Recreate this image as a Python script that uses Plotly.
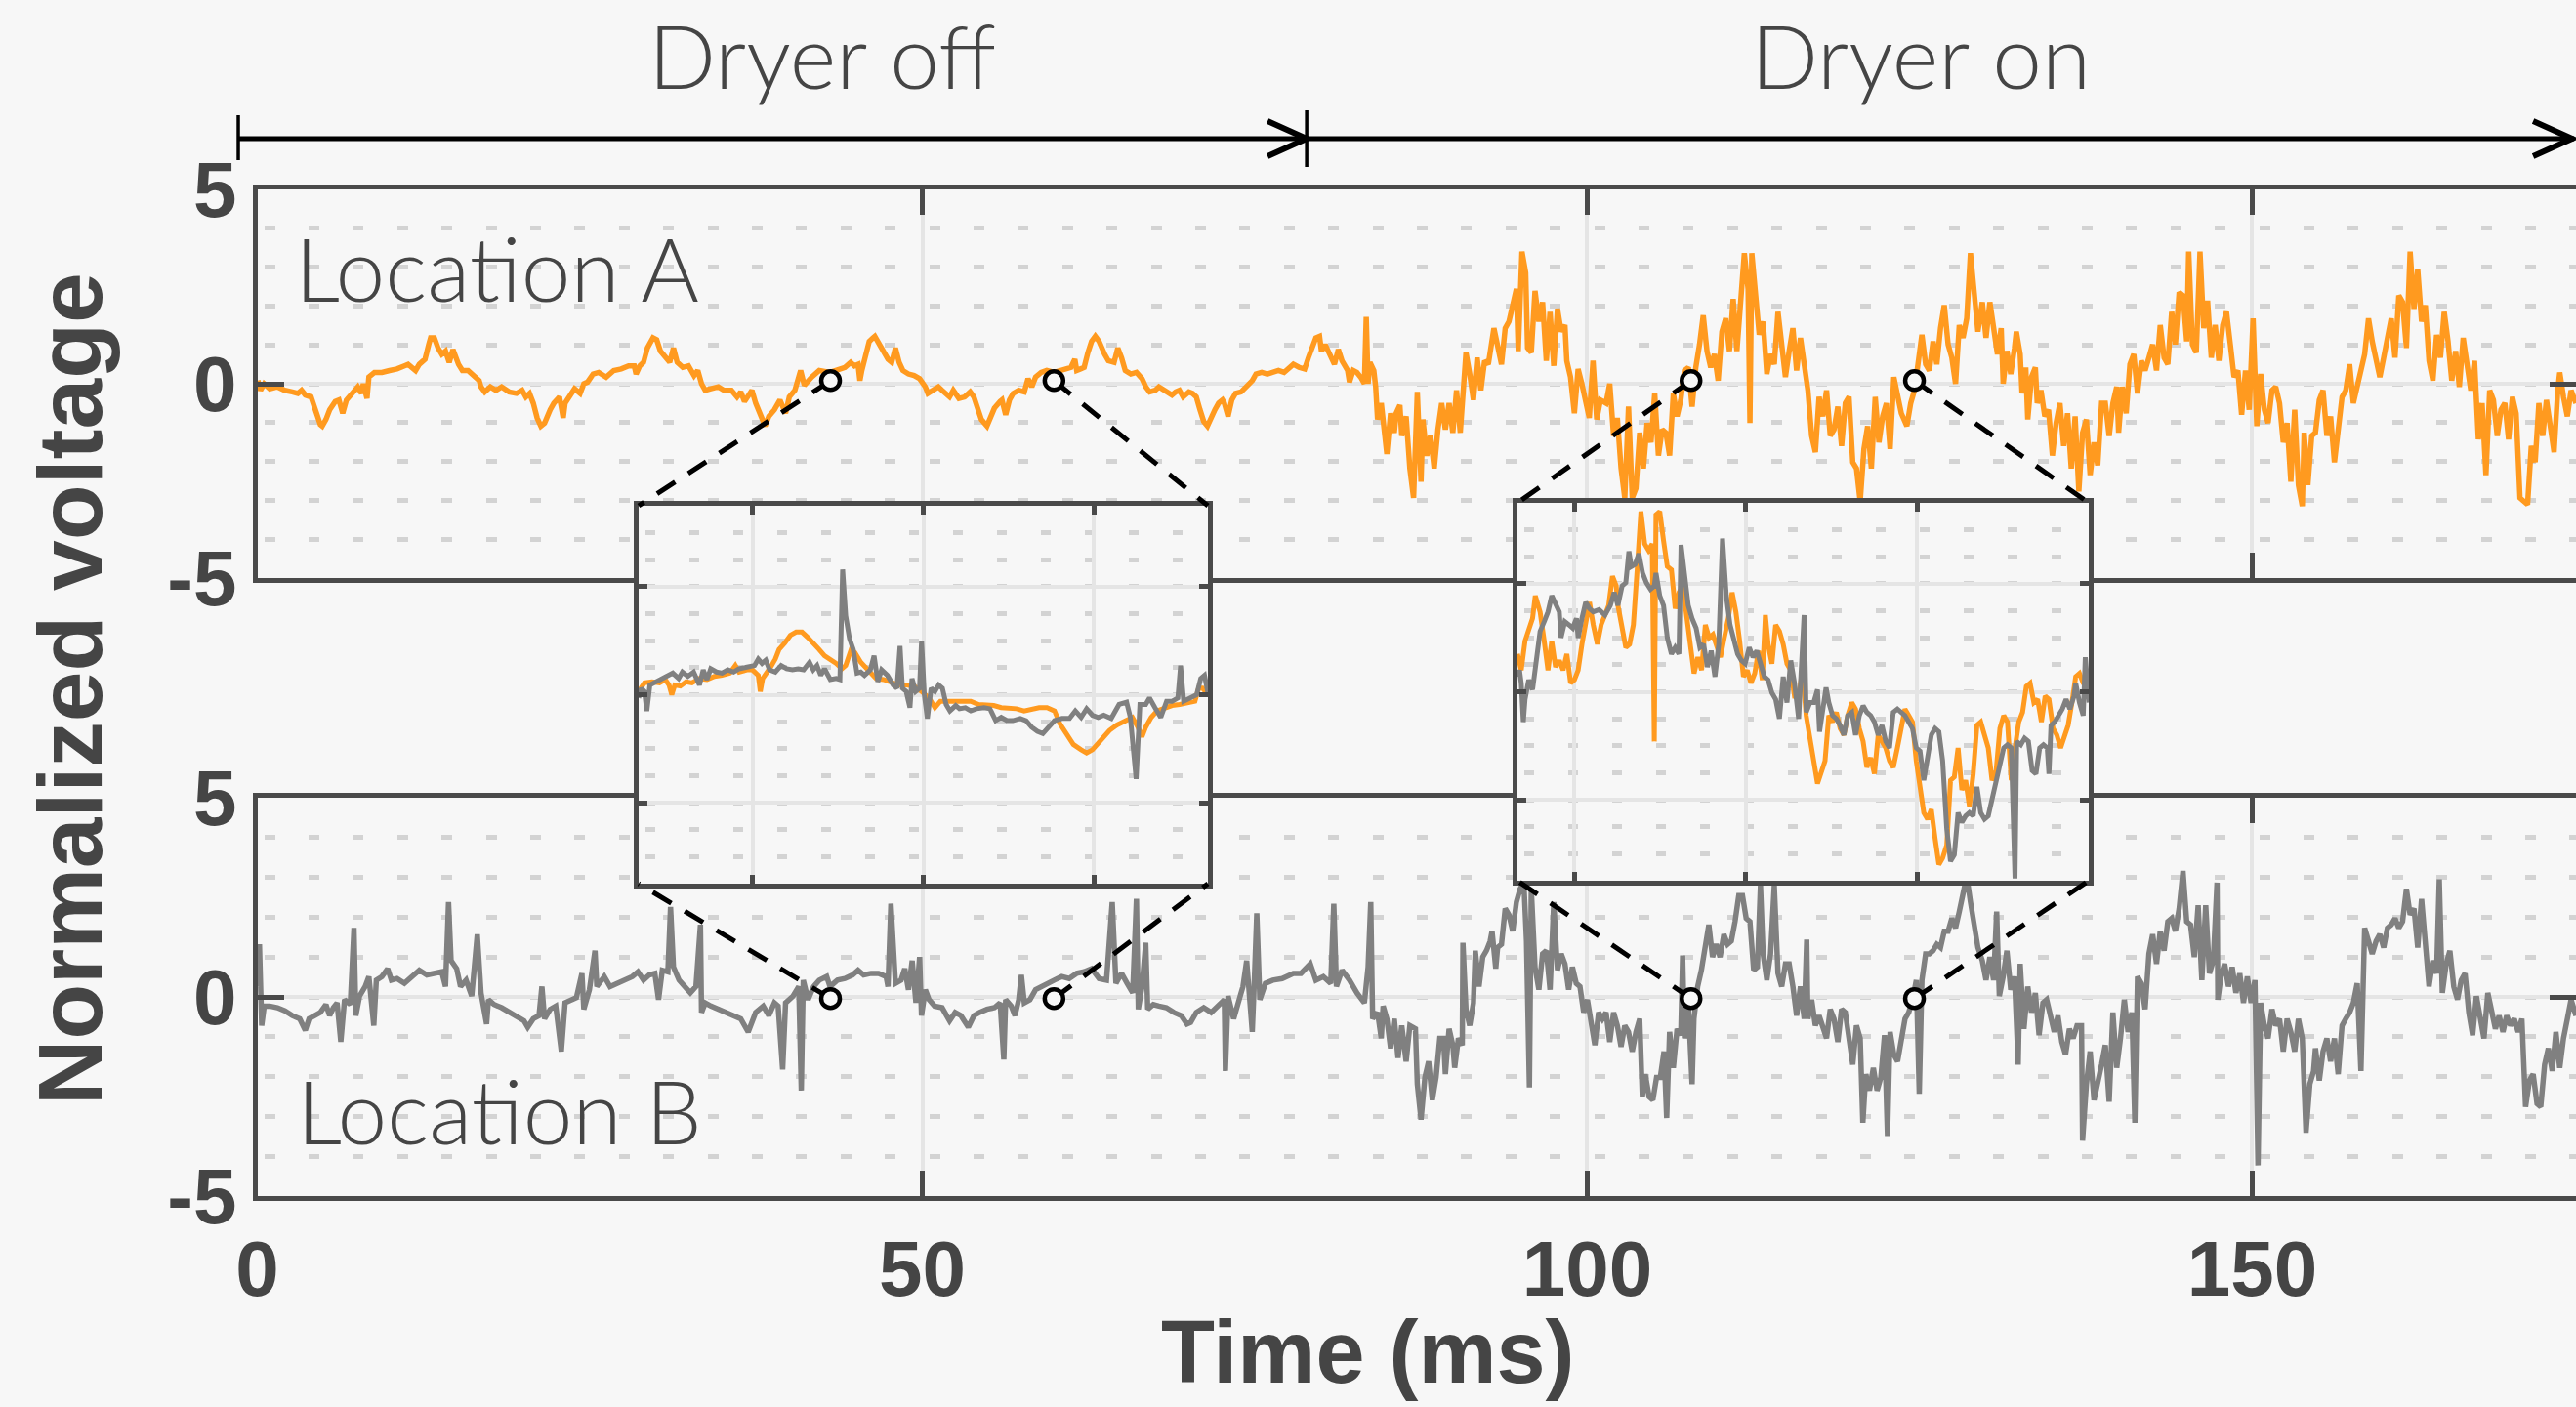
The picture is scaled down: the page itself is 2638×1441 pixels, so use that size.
import plotly.graph_objects as go

W, H = 2638, 1441
BG = '#f7f7f7'
ORANGE = '#ff9a1f'
GRAY = '#808080'
FRAME = '#4a4a4a'
TEXT = '#454545'

# ---------------- data (time in ms, normalized voltage) ----------------
loc_a = [(0.04,0.08),(0.24,-0.17),(0.52,0),(0.94,-0.13),(1.51,-0.08),(2.07,-0.17),(2.63,-0.21),(3.05,-0.25),(3.33,-0.17),(3.61,-0.29),(4.04,-0.34),(4.32,-0.67),(4.74,-1.05),(4.88,-1.09),(5.16,-0.92),(5.44,-0.67),(5.86,-0.46),(6.14,-0.42),(6.42,-0.76),(6.70,-0.42),(7.13,-0.25),(7.55,-0.08),(7.83,-0.25),(7.97,0),(8.25,-0.38),(8.39,0.17),(8.81,0.29),(9.37,0.29),(9.94,0.34),(10.5,0.38),(11.06,0.46),(11.34,0.5),(11.62,0.42),(11.9,0.34),(12.18,0.5),(12.61,0.63),(12.89,1.01),(13.03,1.18),(13.31,1.18),(13.59,0.92),(13.87,0.76),(14.15,0.84),(14.43,0.55),(14.71,0.88),(15.13,0.5),(15.42,0.34),(15.84,0.34),(16.4,0.17),(16.68,0.08),(16.82,-0.08),(17.1,-0.21),(17.52,-0.08),(17.94,-0.17),(18.37,-0.08),(18.93,-0.21),(19.49,-0.25),(19.91,-0.17),(20.19,-0.34),(20.47,-0.25),(20.75,-0.5),(21.04,-0.88),(21.32,-1.09),(21.6,-1.01),(22.02,-0.67),(22.3,-0.5),(22.72,-0.34),(23.0,-0.88),(23.14,-0.5),(23.42,-0.34),(23.85,-0.13),(24.27,-0.25),(24.55,0),(24.83,0.04),(25.25,0.25),(25.67,0.29),(26.23,0.17),(26.8,0.34),(27.36,0.38),(27.92,0.46),(28.34,0.46),(28.48,0.25),(28.76,0.46),(29.04,0.55),(29.33,0.92),(29.75,1.18),(30.03,1.13),(30.31,0.84),(30.73,0.67),(31.01,0.55),(31.29,0.92),(31.57,0.55),(31.99,0.42),(32.42,0.46),(32.84,0.21),(33.12,0.34),(33.4,0),(33.68,-0.17),(34.1,-0.13),(34.66,-0.08),(35.09,-0.17),(35.65,-0.17),(36.07,-0.34),(36.35,-0.21),(36.63,-0.46),(36.91,-0.34),(37.19,-0.17),(37.47,-0.5),(37.9,-0.92),(38.18,-1.09),(38.46,-0.84),(38.88,-0.67),(39.3,-0.42),(39.72,-0.76),(40.0,-0.34),(40.42,-0.17),(40.85,0.34),(41.13,-0.04),(41.69,0.17),(42.25,0.34),
(43.06,0.29),(43.62,0.34),(44.18,0.42),(44.61,0.55),(44.89,0.46),(45.17,0.5),(45.31,0.08),(45.45,0.34),(45.73,0.67),(46.01,1.09),(46.29,1.18),(46.43,1.22),(46.71,1.05),(47.13,0.76),(47.42,0.63),(47.70,0.55),(47.98,0.92),(48.26,0.55),(48.54,0.34),(48.96,0.25),(49.38,0.21),(49.80,0.13),(50.23,-0.08),(50.42,-0.25),(50.79,-0.17),(51.21,-0.08),(51.49,-0.17),(52.05,-0.34),(52.33,-0.17),(52.75,-0.38),(53.18,-0.34),(53.6,-0.21),(53.88,-0.34),(54.16,-0.67),(54.44,-0.92),(54.86,-1.09),(55.14,-0.84),(55.42,-0.63),(55.85,-0.46),(55.99,-0.42),(56.27,-0.8),(56.55,-0.42),(56.83,-0.25),(57.25,-0.17),(57.67,-0.21),(57.95,0.13),(58.23,-0.08),(58.52,0.17),(58.94,0.29),(59.36,0.34),(59.92,0.29),(60.34,0.34),(60.76,0.38),(61.18,0.42),(61.47,0.63),(61.61,0.34),(61.89,0.38),(62.17,0.42),(62.45,0.8),(62.73,1.09),(63.01,1.22),(63.29,1.09),(63.71,0.76),(63.99,0.59),(64.42,0.55),(64.70,0.92),(64.98,0.67),(65.26,0.34),(65.68,0.25),(66.1,0.29),(66.52,0.13),(66.8,-0.08),(67.09,-0.21),(67.51,-0.17),(67.79,-0.08),(68.21,-0.17),(68.49,-0.21),(68.77,-0.29),(69.05,-0.21),(69.33,-0.17),(69.61,-0.34),(70.04,-0.21),(70.32,-0.25),(70.6,-0.34),(70.88,-0.67),(71.16,-0.97),(71.44,-1.09),(71.72,-0.84),(72.0,-0.67),(72.28,-0.5),(72.57,-0.42),(72.71,-0.5),(72.99,-0.84),(73.27,-0.42),(73.55,-0.25),(73.97,-0.21),(74.39,-0.08),(74.81,0.08),(75.09,0.25),(75.52,0.29),(75.94,0.25),(76.36,0.29),(76.78,0.34),(77.2,0.29),(77.48,0.38),(77.9,0.5),(78.33,0.42),(78.75,0.38),(79.03,0.67),(79.31,0.97),(79.59,1.18),(79.87,1.22),(80.01,0.84),(80.29,1.01),(80.71,0.71),(80.99,0.5),(81.28,0.88),(81.56,0.59),(81.98,0.34),(82.12,0.04),(82.4,0.34),(82.68,0.29),(82.96,0.17),(83.24,0),(83.38,1.72),(83.52,0),(83.66,0.55),(83.95,0.34),(84.09,-0.08),(84.23,-0.92),(84.51,-0.5),(84.65,-1.01),(84.93,-1.81),(85.21,-0.76),(85.49,-1.26),(85.63,-0.76),(85.91,-0.55),(86.05,-1.34),
(86.38,-0.84),(86.66,-2.18),(86.94,-2.94),(87.22,-0.21),(87.5,-2.52),(87.64,-0.92),(87.93,-1.85),(88.21,-1.34),(88.49,-2.18),(88.77,-1.18),(89.05,-0.5),(89.33,-1.18),(89.61,-0.5),(89.89,-1.26),(90.17,-0.17),(90.45,-1.26),(90.74,0.34),(90.88,0.8),(91.16,0.25),(91.44,-0.42),(91.72,0.67),(92.0,-0.17),(92.28,0.59),(92.56,0.5),(92.98,1.43),(93.26,0.92),(93.55,0.5),(93.83,1.43),(94.11,1.6),(94.39,2.02),(94.67,2.44),(94.81,0.84),(95.09,3.4),(95.37,2.86),(95.51,0.92),(95.79,0.8),(96.07,2.39),(96.36,1.6),(96.64,2.1),(96.92,0.59),(97.2,1.85),(97.48,0.46),(97.76,1.93),(98.04,1.34),(98.32,1.51),(98.46,0.59),(98.74,0.17),(99.03,-0.76),(99.31,0.38),(99.59,0),(99.87,-0.5),(100.15,-0.88),(100.43,0.59),(100.71,-0.92),(100.99,-0.42),(101.41,-0.5),(101.69,0),(101.98,-1.34),(102.26,-0.88),(102.54,-2.18),(102.82,-2.94),(103.1,-0.59),(103.38,-2.94),(103.66,-2.69),(103.94,-1.26),(104.22,-2.18),(104.5,-1.01),(104.79,-1.51),(105.07,-0.25),(105.35,-1.85),(105.63,-1.18),(105.91,-1.26),(106.19,-1.85),(106.47,-0.25),(106.75,-0.84),(107.03,-0.42),(107.31,0.34),(107.6,0.42),(107.88,-0.59),(108.16,0.42),(108.44,1.01),(108.72,1.76),(109.0,0.84),(109.28,0.42),(109.56,0.76),(109.84,0.08),(110.12,1.34),(110.41,1.68),(110.69,0.84),(110.97,2.18),(111.25,0.84),(111.53,2.02),(111.81,3.36),(112.09,2.44),(112.23,-1.01),(112.37,3.36),(112.65,2.35),(112.93,1.26),(113.22,1.6),(113.5,0.25),(113.78,0.76),(114.06,0.5),(114.34,1.85),(114.62,1.01),(114.9,0.17),(115.18,0.84),(115.46,1.43),(115.74,0.34),(116.03,1.18),(116.31,0.5),(116.59,-0.17),(116.87,-1.34),(117.15,-1.76),(117.43,-0.34),(117.71,-0.84),(117.99,-0.17),(118.27,-1.34),(118.55,-1.18),(118.84,-0.59),(119.12,-1.6),(119.4,-0.5),(119.68,-0.34),(119.96,-2.02),(120.24,-2.18),(120.52,-3.03),(120.8,-1.68),(121.08,-1.09),(121.36,-2.18),(121.65,-0.34),(121.93,-1.51),(122.21,-0.84),(122.49,-0.5),(122.77,-1.68),(123.05,0.17),(123.33,-0.34),(123.61,-0.76),(124.03,-1.09),(124.32,-0.5),(124.6,-0.17),(124.88,0.5),(125.16,1.26),(125.44,0.5),(125.72,0.34),(126.0,1.09),(126.28,0.5),(126.56,1.43),(126.84,2.02),(127.13,1.01),(127.41,0.67),(127.69,0),(127.97,1.51),(128.25,1.18),(128.53,1.68),(128.81,3.36),(129.09,2.35),(129.37,1.34),
(129.7,2.1),(129.98,1.18),(130.27,2.1),(130.55,1.34),(130.84,0.76),(131.12,1.43),(131.27,0),(131.55,0.84),(131.84,0.25),(132.12,0.92),(132.26,1.34),(132.55,0.76),(132.69,-0.25),(132.97,0.42),(133.12,-0.92),(133.4,0.17),(133.69,0.42),(133.83,-0.5),(134.11,-0.17),(134.4,-0.84),(134.68,-0.67),(134.97,-1.85),(135.25,-1.01),(135.54,-0.5),(135.82,-1.6),(136.11,-0.76),(136.39,-2.18),(136.68,-0.84),(136.96,-2.77),(137.24,-1.26),(137.53,-0.92),(137.81,-2.35),(138.1,-1.51),(138.38,-2.1),(138.67,-0.5),(138.95,-0.5),(139.24,-1.34),(139.52,-0.5),(139.81,-0.08),(139.95,-1.26),(140.23,-0.08),(140.52,-0.76),(140.8,0.5),(141.09,0.76),(141.37,-0.25),(141.66,0.59),(141.94,0.34),(142.23,0.67),(142.51,1.01),(142.8,0.34),(143.08,1.51),(143.37,0.67),(143.65,0.5),(143.94,1.85),(144.22,1.01),(144.5,2.35),(144.79,2.27),(145.07,1.09),(145.22,3.4),(145.5,1.01),(145.79,0.8),(146.07,3.4),(146.35,1.43),(146.64,2.14),(146.92,0.67),(147.21,1.51),(147.49,0.59),(147.78,1.51),(148.06,1.85),(148.35,1.01),(148.63,0.17),(148.92,0.34),(149.2,-0.8),(149.49,0.34),(149.77,-0.67),(150.06,1.68),(150.34,-1.09),(150.63,0.25),(150.91,-0.67),(151.19,-1.01),(151.48,-0.17),(151.76,-0.08),(152.05,-0.5),(152.33,-1.51),(152.62,-1.01),(152.9,-2.52),(153.19,-0.67),(153.47,-2.61),(153.76,-3.15),(153.9,-1.26),(154.18,-2.61),(154.47,-1.34),(154.75,-1.26),(155.04,-0.42),(155.32,-0.17),(155.61,-1.34),(155.89,-0.84),(156.18,-2.02),(156.46,-1.09),(156.75,-0.34),(157.03,-0.17),(157.32,0.5),(157.6,-0.5),(157.89,0),(158.17,0.34),(158.45,0.76),(158.74,1.68),(159.02,1.09),(159.31,0.67),(159.59,0.17),(159.88,0.67),(160.16,1.26),(160.45,1.68),(160.73,0.67),(161.02,2.27),(161.3,2.1),(161.59,0.92),(161.87,3.4),(162.16,1.93),(162.44,2.94),(162.73,1.6),(163.01,2.02),(163.29,0.59),(163.58,0.08),(163.86,1.26),(164.15,0.67),(164.43,1.85),(164.72,1.09),(165.0,0.08),(165.29,0.84),(165.57,-0.08),(165.86,1.18),(166.14,0.5),(166.43,-0.17),(166.71,0.59),(167.0,-1.43),(167.28,-0.5),(167.57,-2.35),(167.85,-0.17),(168.13,-0.42),(168.42,-1.34),(168.7,-0.67),(168.99,-0.5),(169.27,-1.43),(169.56,-0.34),(169.84,-0.76),(170.13,-2.94),(170.41,-3.03),(170.7,-3.11),(170.98,-1.6),(171.27,-2.02),(171.55,-0.5),(171.84,-1.34),(172.12,-0.42),(172.41,-1.01),(172.69,-1.76),(172.97,-0.17),(173.12,0.29),(173.4,-0.34),(173.69,-0.84),(173.97,-0.17),(174.34,-0.5)]

loc_b = [(0.0,0.26),(0.16,1.32),(0.33,-0.72),(0.52,-0.23),(0.94,-0.23),(1.51,-0.27),(2.07,-0.35),(2.63,-0.47),(3.19,-0.55),(3.61,-0.84),(3.89,-0.55),(4.32,-0.47),(4.74,-0.39),(5.16,-0.19),(5.44,-0.47),(5.72,-0.27),(6.0,-0.15),(6.28,-1.13),(6.56,-0.07),(6.99,-0.19),(7.27,1.73),(7.41,-0.47),(7.69,0.02),(8.11,0.26),(8.39,0.51),(8.76,-0.72),(8.95,0.42),(9.37,0.51),(9.8,0.71),(10.08,0.42),(10.5,0.46),(11.06,0.34),(11.62,0.51),(12.18,0.67),(12.75,0.55),(13.31,0.59),(13.87,0.63),(14.15,0.26),(14.38,2.38),(14.57,0.91),(14.99,0.71),(15.28,0.26),(15.7,0.42),(16.12,0.02),(16.54,1.57),(16.82,0.1),(17.24,-0.68),(17.38,-0.07),(17.8,-0.19),(18.37,-0.27),(18.93,-0.39),(19.49,-0.47),(20.05,-0.6),(20.33,-0.76),(20.75,-0.55),(21.18,-0.47),(21.4,0.26),(21.6,-0.55),(22.02,-0.31),(22.44,-0.23),(22.86,-1.37),(23.14,-0.15),(23.56,-0.07),(23.99,-0.02),(24.41,0.59),(24.55,-0.31),(24.97,0.18),(25.39,1.16),(25.53,0.26),(26.09,0.51),(26.52,0.26),(27.08,0.34),(27.64,0.42),(28.2,0.51),(28.62,0.63),(29.04,0.42),(29.47,0.55),(29.89,0.59),(30.17,-0.07),(30.45,0.67),(30.87,0.63),(31.07,2.26),(31.29,0.75),(31.71,0.42),(32.14,0.26),(32.56,0.1),(32.98,0.26),(33.32,1.81),(33.4,-0.39),(33.68,-0.15),(34.1,-0.23),(34.66,-0.31),(35.23,-0.39),(35.79,-0.47),(36.35,-0.55),(36.91,-0.88),(37.47,-0.39),(38.04,-0.23),(38.46,-0.47),(38.88,-0.15),(39.16,-0.23),(39.5,-1.82),(39.72,-0.15),(40.28,0.02),(40.71,0.26),(40.9,-2.35),(41.05,0.42),(41.41,-0.07),(41.83,0.26),(42.25,0.42),(42.81,0.51),
(43.06,0.26),(43.62,0.42),(44.18,0.46),(44.75,0.55),(45.17,0.67),(45.59,0.55),(46.15,0.59),(46.71,0.59),(47.28,0.51),(47.42,0.26),(47.64,2.34),(47.98,0.34),(48.4,0.42),(48.68,0.71),(48.96,0.18),(49.24,0.91),(49.52,-0.15),(49.8,1.0),(49.94,-0.47),(50.23,0.18),(50.51,-0.07),(50.93,-0.23),(51.49,-0.27),(52.05,-0.6),(52.47,-0.39),(52.9,-0.47),(53.46,-0.76),(53.88,-0.47),(54.3,-0.39),(54.86,-0.31),(55.42,-0.27),(55.85,-0.15),(56.13,-1.57),(56.27,-0.07),(56.69,-0.23),(56.97,-0.47),(57.25,-0.07),(57.45,0.55),(57.67,-0.15),(58.09,-0.07),(58.52,0.18),(58.94,0.26),(59.36,0.34),(59.92,0.42),(60.48,0.51),(61.04,0.46),(61.61,0.59),(62.17,0.63),(62.73,0.71),(63.29,0.46),(63.85,0.42),(64.28,2.38),(64.56,0.34),(64.98,0.59),(65.4,0.34),(65.82,0.1),(66.1,2.46),(66.24,-0.31),(66.52,0.26),(66.8,1.36),(66.95,-0.31),(67.37,-0.19),(67.79,-0.23),(68.35,-0.27),(68.91,-0.39),(69.47,-0.47),(69.9,-0.68),(70.18,-0.64),(70.6,-0.39),(71.16,-0.27),(71.72,-0.39),(72.28,-0.23),(72.71,-0.07),(72.79,-1.86),(72.99,0.02),(73.41,-0.55),(73.83,-0.11),(74.11,0.26),(74.39,0.91),(74.67,-0.07),(74.81,-0.88),(74.95,0.26),(75.15,2.1),(75.38,-0.07),(75.8,0.34),(76.36,0.42),(77.06,0.46),(77.9,0.59),(78.47,0.59),(79.17,0.83),(79.59,0.42),(80.15,0.51),(80.71,0.34),(80.94,2.34),(81.14,0.26),(81.56,0.67),(82.12,0.42),(82.68,0.1),(83.24,-0.15),(83.52,0.75),(83.72,2.38),(83.86,-0.55),(84.23,-0.39),(84.51,-1.04),(84.65,-0.23),(84.93,-0.55),(85.21,-1.29),(85.49,-0.55),(85.77,-1.53),(86.05,-0.72),
(86.38,-1.62),(86.66,-0.72),(87.08,-0.8),(87.22,-2.19),(87.5,-3.08),(87.79,-2.02),(88.07,-1.62),(88.35,-2.59),(88.63,-2.02),(88.91,-1.04),(89.19,-1.04),(89.33,-1.94),(89.61,-0.8),(89.89,-1.21),(90.03,-1.78),(90.31,-1.04),(90.6,-1.21),(90.65,1.36),(90.88,-0.31),(91.16,-0.72),(91.44,-0.15),(91.58,1.16),(91.86,0.26),(92.14,1.0),(92.42,1.16),(92.7,1.4),(92.84,1.65),(93.12,0.71),(93.26,1.24),(93.55,1.32),(93.83,2.22),(94.11,2.06),(94.39,1.65),(94.67,2.38),(94.95,2.71),(95.23,2.87),(95.43,1.4),(95.65,-2.27),(95.79,2.71),(96.07,0.75),(96.36,0.18),(96.64,1.08),(96.92,1.16),(97.2,0.18),(97.48,2.38),(97.76,0.67),(98.04,1.08),(98.32,0.83),(98.6,0.18),(98.88,0.75),(99.17,0.34),(99.45,0.26),(99.73,-0.39),(100.01,-0.07),(100.29,-0.72),(100.57,-1.21),(100.85,-0.39),(101.13,-0.55),(101.41,-0.39),(101.69,-1.13),(101.98,-0.39),(102.26,-0.72),(102.54,-1.25),(102.82,-0.72),(103.1,-0.88),(103.38,-1.37),(103.66,-0.88),(103.94,-0.55),(104.14,-2.51),(104.36,-1.94),(104.65,-2.51),(104.93,-2.59),(105.21,-2.02),(105.49,-2.02),(105.77,-1.37),(105.97,-3.04),(106.19,-0.88),(106.47,-1.78),(106.75,-0.8),(107.03,-0.96),(107.17,1.04),(107.31,-1.04),(107.6,-0.23),(107.88,-2.19),(108.02,-0.55),(108.3,0.26),(108.58,0.67),(108.86,1.32),(109.14,1.81),(109.42,1.0),(109.7,1.32),(109.98,1.0),(110.27,1.57),(110.55,1.32),(110.83,1.4),(111.11,1.89),(111.39,2.54),(111.67,2.54),(111.95,1.97),(112.23,1.89),(112.51,0.67),(112.79,0.75),(113.02,2.79),(113.22,1.08),(113.5,0.42),(113.78,1.08),(114.06,2.79),(114.34,0.59),(114.62,0.26),(114.9,0.83),(115.18,0.83),(115.46,0.26),(115.74,-0.47),(116.03,0.26),(116.31,-0.55),(116.5,1.44),(116.59,-0.55),(116.87,-0.07),(117.15,-0.72),(117.43,-0.47),(117.71,-0.8),(117.99,-1.04),(118.27,-0.31),(118.55,-0.55),(118.84,-1.13),(119.12,-0.31),(119.4,-0.39),(119.68,-1.04),(119.96,-1.7),(120.24,-0.72),(120.52,-1.04),(120.72,-3.16),(120.94,-1.94),(121.22,-2.35),(121.51,-1.78),(121.79,-2.35),(122.07,-2.02),(122.35,-0.96),(122.57,-3.49),(122.77,-0.88),(123.05,-1.45),(123.33,-1.62),(123.61,-1.04),(123.89,-0.55),(124.17,-0.39),(124.46,-0.07),(124.74,0.42),(124.96,-2.43),(125.16,0.42),(125.44,1.08),(125.72,1.08),(126.0,1.16),(126.28,1.32),(126.56,1.24),(126.84,1.65),(127.13,1.65),(127.41,1.97),(127.69,1.73),(127.97,2.14),(128.25,2.63),(128.53,3.03),(128.81,2.38),(129.09,1.73),(129.37,1.24),
(129.7,0.91),(129.98,0.42),(130.27,1.0),(130.55,0.42),(130.78,2.14),(130.98,0.02),(131.27,0.51),(131.55,1.16),(131.84,0.18),(132.12,0.51),(132.4,-1.7),(132.55,0.83),(132.83,-0.8),(133.12,0.26),(133.4,-0.39),(133.69,0.1),(133.97,-0.96),(134.26,-0.15),(134.54,-0.07),(134.82,-0.55),(135.11,-0.88),(135.39,-0.47),(135.68,-1.13),(135.96,-1.45),(136.25,-0.8),(136.53,-1.04),(136.82,-0.72),(137.16,-0.72),(137.24,-3.61),(137.53,-2.19),(137.81,-1.37),(138.1,-2.59),(138.38,-2.19),(138.67,-1.7),(138.95,-1.21),(139.24,-2.63),(139.52,-0.39),(139.81,-1.78),(140.09,-1.04),(140.38,-0.07),(140.66,-0.88),(140.95,-0.39),(141.17,-3.16),(141.37,0.51),(141.66,0.34),(141.94,-0.31),(142.23,1.08),(142.51,1.57),(142.8,0.83),(143.08,1.65),(143.37,1.16),(143.65,1.89),(143.94,1.97),(144.22,1.65),(144.5,2.22),(144.79,3.16),(145.07,1.89),(145.36,1.81),(145.64,1.0),(145.93,2.3),(146.21,0.42),(146.5,2.3),(146.78,0.59),(147.07,0.91),(147.35,2.87),(147.41,-0.07),(147.64,0.51),(147.92,0.83),(148.21,0.26),(148.49,0.75),(148.77,0.1),(149.06,0.59),(149.34,-0.15),(149.63,0.51),(149.91,-0.15),(150.2,0.42),(150.43,-4.23),(150.63,-0.15),(150.91,-0.72),(151.19,-1.04),(151.48,-0.31),(151.76,-0.72),(152.05,-0.55),(152.33,-1.37),(152.62,-0.55),(152.9,-0.88),(153.19,-1.37),(153.47,-0.55),(153.76,-1.04),(154.04,-3.41),(154.33,-2.19),(154.61,-1.86),(154.75,-1.29),(155.04,-2.1),(155.32,-1.37),(155.61,-1.04),(155.89,-1.62),(156.18,-1.04),(156.46,-1.94),(156.75,-0.72),(157.03,-0.55),(157.32,-0.39),(157.6,-0.15),(157.89,0.34),(158.17,-1.86),(158.31,0.34),(158.45,1.73),(158.74,1.4),(159.02,1.08),(159.31,1.4),(159.59,1.57),(159.88,1.24),(160.16,1.73),(160.45,1.81),(160.73,1.97),(161.02,1.73),(161.3,1.89),(161.59,2.71),(161.87,2.06),(162.16,2.22),(162.44,1.24),(162.73,2.46),(163.01,1.24),(163.29,0.26),(163.58,0.91),(163.86,0.59),(164.06,2.95),(164.29,0.1),(164.58,0.83),(164.86,1.16),(165.15,0.26),(165.43,-0.07),(165.71,0.42),(166.0,0.59),(166.28,-0.39),(166.57,-0.96),(166.85,0.02),(167.14,-0.55),(167.42,-1.04),(167.71,0.1),(167.99,-0.39),(168.28,-0.8),(168.56,-0.47),(168.85,-0.88),(169.13,-0.47),(169.42,-0.72),(169.7,-0.55),(169.99,-0.88),(170.27,-0.55),(170.55,-2.76),(170.84,-2.1),(171.12,-1.94),(171.41,-2.68),(171.69,-2.76),(171.98,-1.7),(172.26,-1.29),(172.55,-1.86),(172.83,-0.88),(173.12,-1.78),(173.4,-1.04),(173.69,-0.55),(173.97,-0.07),(174.34,-0.47)]

# inset windows: relative time (ms) within one 16.7 ms cycle
inset1_a = [(-8.33,0.03),(-8.16,0.11),(-7.94,0.12),(-7.72,0.11),(-7.55,0.14),(-7.44,0.09),(-7.36,0.0),(-7.27,0.09),(-7.11,0.08),(-6.94,0.12),(-6.77,0.11),(-6.55,0.15),(-6.33,0.14),(-6.11,0.17),(-5.89,0.18),(-5.66,0.2),(-5.5,0.27),(-5.39,0.21),(-5.16,0.23),(-5.0,0.23),(-4.83,0.18),(-4.77,0.03),(-4.7,0.15),(-4.55,0.21),(-4.44,0.27),(-4.33,0.33),(-4.22,0.42),(-4.05,0.48),(-3.89,0.55),(-3.72,0.58),(-3.55,0.58),(-3.38,0.53),(-3.22,0.48),(-3.05,0.42),(-2.89,0.36),(-2.72,0.33),(-2.55,0.29),(-2.38,0.24),(-2.27,0.27),(-2.11,0.42),(-2.0,0.39),(-1.83,0.3),(-1.61,0.23),(-1.38,0.15),(-1.16,0.14),(-0.94,0.12),(-0.72,0.09),(-0.5,0.09),(-0.27,0.08),(-0.05,0.03),(0.17,-0.03),(0.34,-0.12),(0.5,-0.06),(0.73,-0.06),(0.95,-0.06),(1.17,-0.07),(1.39,-0.06),(1.62,-0.09),(1.84,-0.09),(2.06,-0.1),(2.28,-0.12),(2.5,-0.12),(2.73,-0.13),(2.95,-0.15),(3.17,-0.13),(3.39,-0.12),(3.62,-0.12),(3.84,-0.15),(4.0,-0.27),(4.17,-0.36),(4.39,-0.46),(4.62,-0.51),(4.78,-0.54),(4.95,-0.51),(5.12,-0.45),(5.28,-0.39),(5.45,-0.33),(5.67,-0.28),(5.89,-0.24),(6.12,-0.21),(6.28,-0.3),(6.4,-0.39),(6.51,-0.3),(6.67,-0.21),(6.84,-0.15),(7.06,-0.12),(7.28,-0.1),(7.5,-0.09),(7.73,-0.07),(7.95,-0.06),(8.06,0.06),(8.17,0.06),(8.34,0.0)]
inset1_b = [(-8.33,-0.03),(-8.25,0.06),(-8.16,0.03),(-8.09,-0.15),(-8.0,0.09),(-7.83,0.12),(-7.66,0.14),(-7.5,0.18),(-7.33,0.2),(-7.16,0.15),(-7.05,0.21),(-6.89,0.17),(-6.72,0.21),(-6.55,0.09),(-6.44,0.23),(-6.33,0.14),(-6.22,0.24),(-6.05,0.21),(-5.89,0.2),(-5.72,0.23),(-5.55,0.21),(-5.39,0.24),(-5.16,0.26),(-4.94,0.27),(-4.83,0.33),(-4.72,0.29),(-4.61,0.32),(-4.5,0.23),(-4.33,0.21),(-4.16,0.27),(-4.0,0.24),(-3.83,0.23),(-3.66,0.24),(-3.5,0.23),(-3.33,0.3),(-3.22,0.23),(-3.11,0.27),(-3.0,0.18),(-2.89,0.24),(-2.72,0.14),(-2.55,0.15),(-2.44,0.14),(-2.36,1.16),(-2.27,0.73),(-2.16,0.52),(-2.05,0.42),(-1.94,0.2),(-1.83,0.21),(-1.72,0.18),(-1.55,0.23),(-1.44,0.36),(-1.33,0.12),(-1.22,0.23),(-1.05,0.18),(-0.88,0.09),(-0.77,0.06),(-0.68,0.45),(-0.61,0.06),(-0.5,0.03),(-0.39,-0.12),(-0.33,0.15),(-0.22,0.03),(-0.11,0.06),(-0.05,0.5),(0.03,0.0),(0.12,-0.22),(0.23,0.06),(0.34,0.03),(0.45,0.09),(0.56,0.06),(0.67,-0.09),(0.78,-0.15),(0.95,-0.1),(1.06,-0.13),(1.23,-0.12),(1.39,-0.15),(1.56,-0.13),(1.78,-0.12),(1.95,-0.13),(2.12,-0.24),(2.28,-0.21),(2.45,-0.24),(2.62,-0.24),(2.84,-0.22),(3.01,-0.24),(3.17,-0.3),(3.34,-0.34),(3.5,-0.36),(3.67,-0.3),(3.84,-0.24),(4.06,-0.22),(4.28,-0.22),(4.45,-0.15),(4.62,-0.21),(4.78,-0.13),(4.95,-0.19),(5.12,-0.21),(5.28,-0.19),(5.5,-0.22),(5.73,-0.09),(5.95,-0.07),(6.06,-0.21),(6.23,-0.78),(6.34,-0.09),(6.51,-0.09),(6.62,-0.03),(6.78,-0.12),(6.95,-0.21),(7.12,-0.06),(7.28,-0.06),(7.45,-0.03),(7.53,0.27),(7.62,-0.06),(7.84,-0.03),(8.0,0.0),(8.12,0.15),(8.23,0.18),(8.34,0.0)]
inset2_a = [(-8.33,0.35),(-8.22,0.2),(-8.11,0.47),(-8.0,0.56),(-7.89,0.68),(-7.81,0.89),(-7.72,0.8),(-7.67,0.74),(-7.55,0.47),(-7.5,0.32),(-7.44,0.2),(-7.33,0.47),(-7.22,0.23),(-7.11,0.29),(-7.0,0.2),(-6.89,0.35),(-6.78,0.08),(-6.67,0.11),(-6.56,0.2),(-6.45,0.44),(-6.34,0.65),(-6.23,0.83),(-6.12,0.62),(-6.0,0.44),(-5.89,0.62),(-5.78,0.71),(-5.67,0.8),(-5.56,1.07),(-5.45,0.98),(-5.4,0.8),(-5.28,0.56),(-5.17,0.41),(-5.06,0.44),(-4.95,0.62),(-4.84,1.13),(-4.73,1.67),(-4.62,1.37),(-4.51,1.31),(-4.4,1.37),(-4.34,-0.46),(-4.29,1.64),(-4.18,1.67),(-4.07,1.4),(-3.96,1.16),(-3.84,1.13),(-3.73,0.77),(-3.62,0.92),(-3.51,0.98),(-3.4,0.71),(-3.29,0.44),(-3.18,0.17),(-3.07,0.32),(-2.96,0.2),(-2.85,0.62),(-2.74,0.5),(-2.63,0.53),(-2.52,0.44),(-2.41,0.32),(-2.3,0.5),(-2.18,0.68),(-2.07,0.92),(-1.96,0.74),(-1.85,0.47),(-1.74,0.14),(-1.63,0.2),(-1.52,0.08),(-1.41,0.17),(-1.3,0.38),(-1.19,0.11),(-1.1,0.71),(-1.02,0.44),(-0.91,0.26),(-0.8,0.62),(-0.69,0.56),(-0.58,0.44),(-0.47,0.26),(-0.36,0.2),(-0.25,-0.04),(-0.13,-0.04),(-0.02,0.2),(0.09,-0.22),(0.2,-0.46),(0.31,-0.64),(0.42,-0.85),(0.53,-0.76),(0.64,-0.64),(0.75,-0.22),(0.86,-0.28),(0.97,-0.19),(1.08,-0.34),(1.19,-0.4),(1.3,-0.22),(1.42,-0.1),(1.53,-0.16),(1.64,-0.34),(1.75,-0.46),(1.86,-0.7),(1.97,-0.61),(2.08,-0.76),(2.19,-0.4),(2.3,-0.46),(2.41,-0.52),(2.52,-0.64),(2.63,-0.7),(2.75,-0.52),(2.86,-0.34),(2.97,-0.16),(3.08,-0.22),(3.19,-0.28),(3.3,-0.64),(3.41,-0.88),(3.52,-1.12),(3.63,-1.18),(3.74,-1.09),(3.85,-1.36),(3.96,-1.6),(4.07,-1.54),(4.19,-1.42),(4.3,-0.82),(4.41,-0.79),(4.52,-0.52),(4.63,-0.91),(4.74,-0.82),(4.85,-1.06),(4.96,-0.76),(5.07,-0.31),(5.18,-0.28),(5.29,-0.4),(5.4,-0.52),(5.51,-0.82),(5.63,-0.73),(5.74,-0.34),(5.85,-0.22),(5.96,-0.28),(6.07,-0.82),(6.18,-0.52),(6.29,-0.28),(6.4,-0.19),(6.51,0.05),(6.62,0.08),(6.73,-0.1),(6.84,-0.07),(6.95,-0.28),(7.06,-0.04),(7.17,-0.07),(7.29,-0.34),(7.4,-0.4),(7.51,-0.52),(7.62,-0.43),(7.73,-0.31),(7.84,-0.1),(7.95,0.14),(8.06,0.17),(8.17,0.08),(8.34,0.02)]
inset2_b = [(-8.33,0.14),(-8.27,0.2),(-8.22,0.08),(-8.16,-0.28),(-8.11,-0.07),(-8.0,0.11),(-7.89,0.02),(-7.78,0.26),(-7.67,0.56),(-7.55,0.65),(-7.44,0.74),(-7.33,0.89),(-7.22,0.8),(-7.11,0.74),(-7.06,0.5),(-6.95,0.65),(-6.83,0.62),(-6.72,0.59),(-6.61,0.68),(-6.56,0.5),(-6.45,0.68),(-6.34,0.83),(-6.23,0.77),(-6.12,0.74),(-5.95,0.76),(-5.78,0.71),(-5.62,0.8),(-5.51,0.92),(-5.4,0.8),(-5.28,0.98),(-5.17,1.01),(-5.08,1.3),(-5.01,1.16),(-4.9,1.18),(-4.79,1.28),(-4.68,1.1),(-4.57,1.01),(-4.45,0.95),(-4.34,0.98),(-4.29,1.1),(-4.18,0.89),(-4.07,0.8),(-3.96,0.5),(-3.84,0.35),(-3.73,0.41),(-3.62,0.35),(-3.56,1.36),(-3.46,1.04),(-3.35,0.8),(-3.24,0.68),(-3.12,0.59),(-3.01,0.41),(-2.9,0.44),(-2.79,0.23),(-2.68,0.38),(-2.57,0.14),(-2.46,0.44),(-2.35,1.42),(-2.24,0.89),(-2.13,0.62),(-2.02,0.5),(-1.91,0.35),(-1.8,0.29),(-1.69,0.26),(-1.57,0.41),(-1.46,0.32),(-1.35,0.38),(-1.24,0.26),(-1.13,0.14),(-1.02,0.11),(-0.91,-0.01),(-0.8,-0.07),(-0.69,-0.25),(-0.58,0.14),(-0.47,-0.1),(-0.36,0.29),(-0.25,0.08),(-0.13,-0.25),(-0.08,0.02),(0.03,0.71),(0.09,-0.19),(0.2,-0.1),(0.31,-0.1),(0.42,0.02),(0.48,-0.37),(0.59,-0.16),(0.67,0.04),(0.75,-0.1),(0.86,-0.22),(0.97,-0.25),(1.08,-0.31),(1.19,-0.4),(1.3,-0.22),(1.42,-0.19),(1.53,-0.4),(1.64,-0.22),(1.75,-0.13),(1.86,-0.19),(1.97,-0.22),(2.08,-0.28),(2.19,-0.4),(2.3,-0.31),(2.41,-0.46),(2.52,-0.52),(2.63,-0.19),(2.75,-0.16),(2.86,-0.19),(2.97,-0.22),(3.08,-0.28),(3.19,-0.34),(3.3,-0.52),(3.41,-0.55),(3.52,-0.82),(3.63,-0.58),(3.74,-0.4),(3.85,-0.34),(3.96,-0.37),(4.07,-0.64),(4.19,-1.27),(4.3,-1.57),(4.41,-1.51),(4.52,-1.12),(4.63,-1.21),(4.74,-1.15),(4.85,-1.12),(4.96,-1.15),(5.07,-0.88),(5.18,-1.12),(5.29,-1.18),(5.4,-1.15),(5.51,-1.0),(5.63,-0.82),(5.74,-0.7),(5.85,-0.52),(5.96,-0.49),(6.07,-0.52),(6.18,-1.73),(6.23,-0.46),(6.35,-0.49),(6.46,-0.43),(6.57,-0.46),(6.68,-0.73),(6.79,-0.76),(6.9,-0.52),(7.01,-0.49),(7.12,-0.52),(7.17,-0.76),(7.23,-0.31),(7.34,-0.28),(7.45,-0.22),(7.56,-0.16),(7.67,-0.07),(7.78,-0.16),(7.9,-0.04),(7.95,0.08),(8.06,-0.1),(8.17,-0.22),(8.23,0.32),(8.34,-0.1)]

zoom_windows = [(43.1, 59.9), (107.8, 124.6)]   # ms, marked by circles
circle_v_top = 0.08
circle_v_bot = -0.04
phase_edges = [-1.43, 78.9, 174.2]              # ms
phase_labels = ['Dryer off', 'Dryer on']
phase_label_x = [42.5, 125.1]                   # ms
y_ticks = [-5, 0, 5]
y_ticktext = ['-5', '0', '5']
x_ticks = [0, 50, 100, 150]
inset1_xticks = [-5, 0, 5]
inset2_xticks = [-6.67, -1.67, 3.33]
inset_yticks = [-1, 0, 1]

# ---------------- geometry (pixels) ----------------
X_RANGE = [0, 174.34]
Y_RANGE = [-5, 5]
PX_L, PX_R = 263.5, W
TOP = (194, 592)
BOT = (817, 1225)
INSETS = [(654, 518, 1237, 905), (1554, 515, 2139, 902)]
INSET_XR = [-8.33, 8.33]
INSET_YR = [-1.75, 1.75]


def xpx(ms):
    return PX_L + (ms - X_RANGE[0]) / (X_RANGE[1] - X_RANGE[0]) * (PX_R - PX_L)


def ypx(v, panel):
    t, b = panel
    return t + (Y_RANGE[1] - v) / (Y_RANGE[1] - Y_RANGE[0]) * (b - t)


def px(x):
    return x / W


def py(y):
    return 1 - y / H


def ydom(panel):
    return [py(panel[1]), py(panel[0])]


tick_font = dict(family='Liberation Sans, Arial, sans-serif', size=80, color=TEXT, weight='bold')
light_font = dict(family='Lato, Open Sans, sans-serif', size=91, color=TEXT, weight=300)
title_font = dict(family='Liberation Sans, Arial, sans-serif', size=90, color=TEXT, weight='bold')
ytitle_font = dict(family='Liberation Sans, Arial, sans-serif', size=93, color=TEXT, weight='bold')

LW = 5.5  # main trace width
fig = go.Figure()


def split(pairs):
    return [p[0] for p in pairs], [p[1] for p in pairs]


ta, va = split(loc_a)
tb, vb = split(loc_b)
fig.add_trace(go.Scatter(x=ta, y=va, mode='lines', line=dict(color=ORANGE, width=LW), xaxis='x', yaxis='y'))
fig.add_trace(go.Scatter(x=tb, y=vb, mode='lines', line=dict(color=GRAY, width=LW), xaxis='x2', yaxis='y2'))
for k, (sa, sb) in enumerate([(inset1_a, inset1_b), (inset2_a, inset2_b)]):
    xa = 'x%d' % (k + 3)
    ya = 'y%d' % (k + 3)
    t1, v1 = split(sa)
    t2, v2 = split(sb)
    fig.add_trace(go.Scatter(x=t1, y=v1, mode='lines', line=dict(color=ORANGE, width=5), xaxis=xa, yaxis=ya))
    fig.add_trace(go.Scatter(x=t2, y=v2, mode='lines', line=dict(color=GRAY, width=5), xaxis=xa, yaxis=ya))
# dummy traces so the right-hand tick axes are drawn
fig.add_trace(go.Scatter(x=[None], y=[None], xaxis='x', yaxis='y5'))
fig.add_trace(go.Scatter(x=[None], y=[None], xaxis='x2', yaxis='y6'))

main_grid = dict(showgrid=True, gridcolor='#e5e5e5', gridwidth=4, zeroline=False, automargin=False)


def main_x(anchor, labels):
    d = dict(domain=[px(PX_L), 1], range=X_RANGE, anchor=anchor, showline=True, linecolor=FRAME,
             linewidth=5, mirror='ticks', ticks='inside', ticklen=26, tickwidth=5, tickcolor=FRAME,
             tickvals=x_ticks, ticktext=[str(v) for v in x_ticks], showticklabels=labels,
             tickfont=tick_font, ticklabelstandoff=1, fixedrange=True)
    d.update(main_grid)
    return d


def main_y(anchor, panel):
    d = dict(domain=ydom(panel), range=Y_RANGE, anchor=anchor, showline=True, linecolor=FRAME,
             linewidth=5, mirror=False, ticks='inside', ticklen=27, tickwidth=5, tickcolor=FRAME,
             tickvals=y_ticks, ticktext=y_ticktext, tickfont=tick_font, ticklabelstandoff=0,
             minor=dict(dtick=1, tick0=0, showgrid=True, gridcolor='#d3d3d3', gridwidth=5,
                        griddash='0px,7px,11px,27.4px'))
    d.update(main_grid)
    return d


def right_y(over, anchor):
    return dict(overlaying=over, anchor=anchor, side='right', range=Y_RANGE, showline=False,
                ticks='inside', ticklen=27, tickwidth=5, tickcolor=FRAME, tickvals=y_ticks,
                showticklabels=False, showgrid=False, zeroline=False, automargin=False)


def inset_x(box, anchor, tv):
    return dict(domain=[px(box[0]), px(box[2])], range=INSET_XR, anchor=anchor, showline=True,
                linecolor=FRAME, linewidth=5, mirror='ticks', ticks='inside', ticklen=9, tickwidth=5,
                tickcolor=FRAME, tickvals=tv, showticklabels=False, showgrid=True,
                gridcolor='#e5e5e5', gridwidth=4, zeroline=False, automargin=False)


def inset_y(box, anchor):
    return dict(domain=[py(box[3]), py(box[1])], range=INSET_YR, anchor=anchor, showline=True,
                linecolor=FRAME, linewidth=5, mirror='ticks', ticks='inside', ticklen=9, tickwidth=5,
                tickcolor=FRAME, tickvals=inset_yticks, showticklabels=False, showgrid=True,
                gridcolor='#e5e5e5', gridwidth=4, zeroline=False, automargin=False,
                minor=dict(dtick=0.25, tick0=0, showgrid=True, gridcolor='#d3d3d3', gridwidth=5,
                           griddash='0px,7px,10px,28px'))


shapes = []
annotations = []
# connectors + circles
for (t0, t1), box in zip(zoom_windows, INSETS):
    L, T, R, B = box
    pts = [((xpx(t0), ypx(circle_v_top, TOP)), (L, T)),
           ((xpx(t1), ypx(circle_v_top, TOP)), (R, T)),
           ((xpx(t0), ypx(circle_v_bot, BOT)), (L, B)),
           ((xpx(t1), ypx(circle_v_bot, BOT)), (R, B))]
    for (cx, cy), (ex, ey) in pts:
        shapes.append(dict(type='line', xref='paper', yref='paper', x0=px(cx), y0=py(cy),
                           x1=px(ex), y1=py(ey), line=dict(color='black', width=5, dash='22px,16px'),
                           layer='above'))
    for (cx, cy), _ in pts:
        r = 9.5
        shapes.append(dict(type='circle', xref='paper', yref='paper', x0=px(cx - r), x1=px(cx + r),
                           y0=py(cy + r), y1=py(cy - r), line=dict(color='black', width=4.5),
                           fillcolor=BG, layer='above'))

# header arrows
AY = 142
xs = [xpx(v) for v in phase_edges]
shapes.append(dict(type='line', xref='paper', yref='paper', x0=px(xs[0]), x1=px(xs[2]), y0=py(AY), y1=py(AY),
                   line=dict(color='black', width=5)))
shapes.append(dict(type='line', xref='paper', yref='paper', x0=px(xs[0]), x1=px(xs[0]), y0=py(118), y1=py(164),
                   line=dict(color='black', width=3.5)))
shapes.append(dict(type='line', xref='paper', yref='paper', x0=px(xs[1]), x1=px(xs[1]), y0=py(113), y1=py(171),
                   line=dict(color='black', width=3.5)))
for tip in (xs[1], xs[2] - 2):
    path = 'M %f,%f L %f,%f L %f,%f' % (px(tip - 40), py(AY - 18), px(tip), py(AY), px(tip - 40), py(AY + 18))
    shapes.append(dict(type='path', xref='paper', yref='paper', path=path, line=dict(color='black', width=6)))

for lab, xm in zip(phase_labels, phase_label_x):
    annotations.append(dict(text=lab, x=px(xpx(xm)), y=py(56), xref='paper', yref='paper', showarrow=False,
                            xanchor='center', yanchor='middle', font=light_font))
annotations.append(dict(text='Location A', x=px(300), y=py(274), xref='paper', yref='paper', showarrow=False,
                        xanchor='left', yanchor='middle', font=light_font))
annotations.append(dict(text='Location B', x=px(302), y=py(1136), xref='paper', yref='paper', showarrow=False,
                        xanchor='left', yanchor='middle', font=light_font))
annotations.append(dict(text='Normalized voltage', x=px(72), y=py(706), xref='paper', yref='paper',
                        showarrow=False, textangle=-90, xanchor='center', yanchor='middle', font=ytitle_font))
annotations.append(dict(text='Time (ms)', x=px(1400), y=py(1385), xref='paper', yref='paper', showarrow=False,
                        xanchor='center', yanchor='middle', font=title_font))

fig.update_layout(
    width=W, height=H, autosize=False,
    margin=dict(l=0, r=0, t=0, b=0, pad=0, autoexpand=False),
    paper_bgcolor=BG, plot_bgcolor=BG, showlegend=False, hovermode=False,
    xaxis=main_x('y', False), yaxis=main_y('x', TOP),
    xaxis2=main_x('y2', True), yaxis2=main_y('x2', BOT),
    xaxis3=inset_x(INSETS[0], 'y3', inset1_xticks), yaxis3=inset_y(INSETS[0], 'x3'),
    xaxis4=inset_x(INSETS[1], 'y4', inset2_xticks), yaxis4=inset_y(INSETS[1], 'x4'),
    yaxis5=right_y('y', 'x'), yaxis6=right_y('y2', 'x2'),
    shapes=shapes, annotations=annotations,
)

fig.write_html('out.html', config={'displayModeBar': False})
